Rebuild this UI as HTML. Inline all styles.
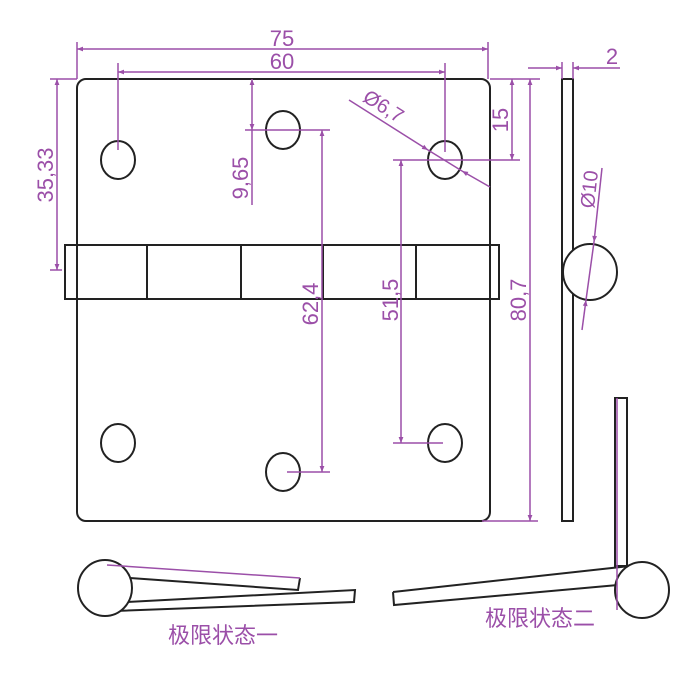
<!DOCTYPE html>
<html><head><meta charset="utf-8"><style>
html,body{margin:0;padding:0;background:#fff;}
svg{display:block;}
text{font-family:"Liberation Sans","Noto Sans CJK SC",sans-serif;fill:#9b4fa8;}
</style></head><body>
<svg width="700" height="692" viewBox="0 0 700 692" xmlns="http://www.w3.org/2000/svg">
<defs>
<marker id="a" viewBox="0 0 10 10" refX="10" refY="5" markerWidth="10" markerHeight="6" orient="auto-start-reverse" markerUnits="userSpaceOnUse"><path d="M0,1 L10,5 L0,9 z" fill="#9b4fa8"/></marker>
</defs>
<g fill="none" stroke="#222" stroke-width="2">
<rect x="77" y="79" width="413" height="442" rx="9" fill="#fff"/>
<rect x="65" y="245" width="434" height="54" fill="#fff"/>
<line x1="147" y1="245" x2="147" y2="299"/>
<line x1="241" y1="245" x2="241" y2="299"/>
<line x1="323" y1="245" x2="323" y2="299"/>
<line x1="416" y1="245" x2="416" y2="299"/>
<line x1="77" y1="245" x2="77" y2="299"/>
<line x1="490" y1="245" x2="490" y2="299"/>
<ellipse cx="118" cy="160" rx="17" ry="19"/>
<ellipse cx="283" cy="130" rx="17" ry="19"/>
<ellipse cx="445" cy="160" rx="17" ry="19"/>
<ellipse cx="118" cy="443" rx="17" ry="19"/>
<ellipse cx="283" cy="472" rx="17" ry="19"/>
<ellipse cx="445" cy="443" rx="17" ry="19"/>
<rect x="562" y="79" width="11" height="442"/>
<ellipse cx="590" cy="272" rx="27" ry="28" fill="#fff"/>
<path d="M130,578 L298,590 L300,578"/>
<path d="M127,602 L355,590 L354,602 L115,611"/>
<ellipse cx="105" cy="588" rx="27" ry="28" fill="#fff"/>
<path d="M393,592 L630,566 M393,592 L394,605 L618,585"/>
<rect x="615" y="398" width="12" height="168"/>
<ellipse cx="642" cy="590" rx="27" ry="28" fill="#fff"/>
</g>
<g stroke="#9b4fa8" stroke-width="1.5" fill="none">
<line x1="77" y1="42" x2="77" y2="79"/><line x1="488" y1="42" x2="488" y2="79"/>
<line x1="77" y1="49" x2="488" y2="49" marker-start="url(#a)" marker-end="url(#a)"/>
<line x1="118" y1="63" x2="118" y2="150"/><line x1="445" y1="63" x2="445" y2="152"/>
<line x1="118" y1="72" x2="445" y2="72" marker-start="url(#a)" marker-end="url(#a)"/>
<line x1="50" y1="79" x2="77" y2="79"/><line x1="490" y1="79" x2="540" y2="79"/>
<line x1="57" y1="79" x2="57" y2="270" marker-start="url(#a)" marker-end="url(#a)"/>
<line x1="50" y1="270" x2="62" y2="270"/>
<line x1="252" y1="79" x2="252" y2="130" marker-start="url(#a)" marker-end="url(#a)"/>
<line x1="252" y1="130" x2="252" y2="205"/>
<line x1="245" y1="130" x2="330" y2="130"/>
<line x1="322" y1="130" x2="322" y2="472" marker-start="url(#a)" marker-end="url(#a)"/>
<line x1="287" y1="472" x2="330" y2="472"/>
<line x1="401" y1="160" x2="401" y2="443" marker-start="url(#a)" marker-end="url(#a)"/>
<line x1="393" y1="160" x2="520" y2="160"/>
<line x1="393" y1="443" x2="443" y2="443"/>
<line x1="512" y1="79" x2="512" y2="160" marker-start="url(#a)" marker-end="url(#a)"/>
<line x1="530" y1="79" x2="530" y2="521" marker-start="url(#a)" marker-end="url(#a)"/>
<line x1="482" y1="521" x2="538" y2="521"/>
<line x1="562" y1="62" x2="562" y2="79"/><line x1="573" y1="62" x2="573" y2="79"/>
<line x1="528" y1="68" x2="562" y2="68" marker-end="url(#a)"/>
<line x1="620" y1="68" x2="573" y2="68" marker-end="url(#a)"/>
<line x1="349" y1="100" x2="428" y2="150" marker-end="url(#a)"/>
<line x1="428" y1="150" x2="462" y2="171"/>
<line x1="490" y1="187" x2="462" y2="171" marker-end="url(#a)"/>
<line x1="602" y1="168" x2="594" y2="242" marker-end="url(#a)"/>
<line x1="594" y1="242" x2="586" y2="300"/>
<line x1="582" y1="330" x2="586" y2="300" marker-end="url(#a)"/>
<line x1="107" y1="565" x2="300" y2="578"/>
<line x1="617" y1="398" x2="617" y2="610"/>
</g>
<g font-size="22">
<text x="282" y="46" text-anchor="middle">75</text>
<text x="282" y="69" text-anchor="middle">60</text>
<text x="612" y="64" text-anchor="middle">2</text>
<text transform="translate(53,175) rotate(-90)" text-anchor="middle">35,33</text>
<text transform="translate(248,178) rotate(-90)" text-anchor="middle">9,65</text>
<text transform="translate(318,304) rotate(-90)" text-anchor="middle">62,4</text>
<text transform="translate(398,300) rotate(-90)" text-anchor="middle">51,5</text>
<text transform="translate(508,120) rotate(-90)" text-anchor="middle">15</text>
<text transform="translate(526,300) rotate(-90)" text-anchor="middle">80,7</text>
<text transform="translate(596,190) rotate(-84)" text-anchor="middle" font-size="20">Ø10</text>
<text transform="translate(380,112) rotate(32)" text-anchor="middle" font-size="20">Ø6,7</text>
<text x="168" y="643" font-size="22">极限状态一</text>
<text x="485" y="626" font-size="22">极限状态二</text>
</g>
</svg>
</body></html>
